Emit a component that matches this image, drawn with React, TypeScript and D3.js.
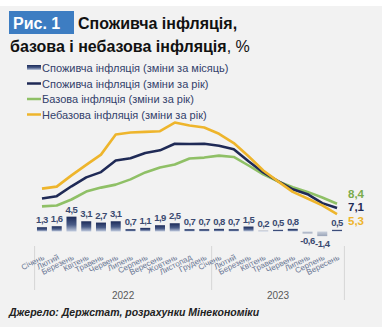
import React from "react";
import * as d3 from "d3";

const months = [
  "Січень", "Лютий", "Березень", "Квітень", "Травень", "Червень",
  "Липень", "Серпень", "Вересень", "Жовтень", "Листопад", "Грудень",
  "Січень", "Лютий", "Березень", "Квітень", "Травень", "Червень",
  "Липень", "Серпень", "Вересень",
];
const years = [
  { label: "2022", from: 0, to: 11 },
  { label: "2023", from: 12, to: 20 },
];
const cpiMonthly = [1.3, 1.6, 4.5, 3.1, 2.7, 3.1, 0.7, 1.1, 1.9, 2.5, 0.7, 0.7, 0.8, 0.7, 1.5, 0.2, 0.5, 0.8, -0.6, -1.4, 0.5];
const cpiYoY = [10.0, 10.7, 13.7, 16.4, 18.0, 21.5, 22.2, 23.8, 24.6, 26.6, 26.5, 26.6, 26.0, 24.9, 21.3, 17.9, 15.3, 12.8, 11.3, 8.6, 7.1];
const coreYoY = [7.6, 7.9, 9.7, 12.1, 13.3, 14.2, 15.8, 17.9, 19.4, 20.3, 22.1, 22.4, 23.0, 22.6, 20.0, 17.3, 15.2, 13.4, 12.0, 10.3, 8.4];
const nonCoreYoY = [13.0, 13.6, 17.0, 20.2, 23.3, 29.4, 30.0, 30.2, 30.4, 33.0, 32.1, 31.5, 29.6, 26.8, 22.8, 18.5, 15.2, 12.0, 10.0, 7.9, 5.3];

const legendItems = [
  { label: "Споживча інфляція (зміни за місяць)", kind: "bar", color: "#1f2d5c" },
  { label: "Споживча інфляція (зміни за рік)", kind: "line", color: "#1f2a56" },
  { label: "Базова інфляція (зміни за рік)", kind: "line", color: "#8fc066" },
  { label: "Небазова інфляція (зміни за рік)", kind: "line", color: "#eeb52c" },
];

const NAVY = "#1f2a56";
const GREEN = "#8fc066";
const ORANGE = "#eeb52c";
const fmt = (v: number) => String(v).replace(".", ",");

export default function App() {
  const W = 382, H = 327;
  const idx = months.map((_, i) => i);
  const x = d3.scalePoint<number>().domain(idx).range([34.6, 344.4]).padding(0.5);
  const step = x.step();
  const y = d3.scaleLinear().domain([0, 30]).range([231.5, 132.5]);
  const line = d3.line<number>().x((_, i) => x(i)!).y((d) => y(d)).curve(d3.curveLinear);
  const barW = 10;
  const font = "Liberation Sans, Arial, sans-serif";

  const series = [
    { data: coreYoY, color: GREEN, labelColor: "#7aab4c", dy: -6 },
    { data: cpiYoY, color: NAVY, labelColor: NAVY, dy: 3 },
    { data: nonCoreYoY, color: ORANGE, labelColor: "#eeb52c", dy: 11 },
  ];

  const sepXs = [x(0)! - step / 2, x(11)! + step / 2, x(20)! + step / 2];

  return (
    <div style={{ position: "fixed", left: 0, top: 0 }}>
      <svg width={W} height={H} style={{ display: "block" }} fontFamily={font}>
        <defs>
          <linearGradient id="barGrad" x1="0" y1="0" x2="0" y2="1">
            <stop offset="0%" stopColor="#1b2a58" />
            <stop offset="55%" stopColor="#4a5c88" />
            <stop offset="100%" stopColor="#c3cde0" />
          </linearGradient>
          <linearGradient id="negGrad" x1="0" y1="0" x2="0" y2="1">
            <stop offset="0%" stopColor="#c9d0dc" />
            <stop offset="100%" stopColor="#9aa4b8" />
          </linearGradient>
        </defs>
        <rect x={0} y={0} width={W} height={H} fill="#ffffff" />
        <rect x={0} y={6} width={W} height={H - 6} fill="#f2f2f2" />

        {/* Title */}
        <rect x={9} y={11} width={65} height={23} fill="#3d7dc2" />
        <text x={13} y={29} fontSize={16} fontWeight="bold" fill="#ffffff">Рис. 1</text>
        <text x={78} y={29} fontSize={16} fontWeight="bold" fill="#111">Споживча інфляція,</text>
        <text x={10} y={52} fontSize={16} fill="#111">
          <tspan fontWeight="bold">базова і небазова інфляція</tspan>
          <tspan>, %</tspan>
        </text>

        {/* Legend */}
        {legendItems.map((it, i) => {
          const ly = 68 + i * 15.5;
          return (
            <g key={i}>
              {it.kind === "bar" ? (
                <rect x={27} y={ly - 3} width={14} height={5} fill="url(#barGrad)" />
              ) : (
                <line x1={27} x2={41} y1={ly} y2={ly} stroke={it.color} strokeWidth={2.5} />
              )}
              <text x={42} y={ly + 4} fontSize={11} fill="#33416b">{it.label}</text>
            </g>
          );
        })}

        {/* Bars */}
        {cpiMonthly.map((v, i) => {
          const y0 = y(0), yv = y(v);
          return (
            <rect
              key={i}
              x={x(i)! - barW / 2}
              y={Math.min(y0, yv)}
              width={barW}
              height={Math.abs(yv - y0)}
              fill={v >= 0 ? "url(#barGrad)" : "url(#negGrad)"}
            />
          );
        })}
        {cpiMonthly.map((v, i) => (
          <text
            key={i}
            x={x(i)!}
            y={v >= 0 ? y(v) - 4 : y(v) + 11}
            fontSize={9.5}
            fontWeight="bold"
            fill="#3a4a70"
            textAnchor="middle"
            letterSpacing={-0.5}
          >
            {fmt(v)}
          </text>
        ))}

        {/* Lines */}
        {series.map((s, k) => (
          <path key={k} d={line(s.data)!} fill="none" stroke={s.color} strokeWidth={2.6} strokeLinejoin="round" />
        ))}
        {series.map((s, k) => {
          const last = s.data[s.data.length - 1];
          return (
            <text key={k} x={348} y={y(last) + s.dy} fontSize={11.5} fontWeight="bold" fill={s.labelColor}>
              {fmt(last)}
            </text>
          );
        })}

        {/* X axis */}
        {sepXs.map((sx, i) => (
          <line key={i} x1={sx} x2={sx} y1={246} y2={i === 2 ? 300 : 290} stroke="#d6d6d6" strokeWidth={1} />
        ))}
        {months.map((m, i) => (
          <text
            key={i}
            transform={`translate(${x(i)! + 3},${259}) rotate(-27)`}
            fontSize={8}
            fill="#6a7794"
            textAnchor="end"
          >
            {m}
          </text>
        ))}
        {years.map((yr, i) => (
          <text
            key={i}
            x={(x(yr.from)! + x(yr.to)!) / 2}
            y={299}
            fontSize={10}
            fill="#595959"
            textAnchor="middle"
          >
            {yr.label}
          </text>
        ))}

        {/* Source */}
        <text x={9} y={316} fontSize={10.5} fontStyle="italic" fontWeight="bold" fill="#222">
          Джерело: Держстат, розрахунки Мінекономіки
        </text>
      </svg>
    </div>
  );
}
